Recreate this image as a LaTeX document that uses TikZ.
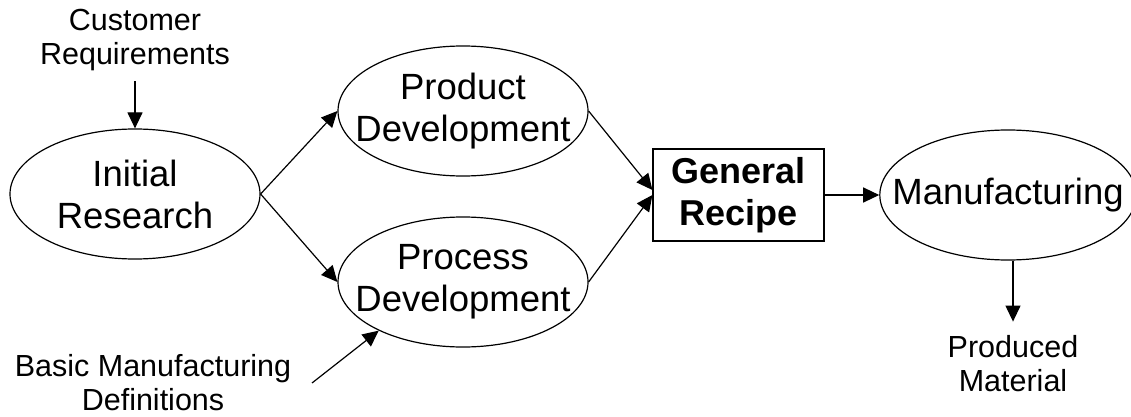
\documentclass[tikz,border=0pt]{standalone}
\usepackage{fontspec}
\setmainfont{Liberation Sans}
\usetikzlibrary{shapes.geometric,arrows.meta}
\begin{document}
\begin{tikzpicture}[x=1pt,y=-1pt,
    oval/.style={ellipse, draw, line width=1.2pt, minimum width=250pt, minimum height=130pt, inner xsep=-25pt, inner ysep=-10pt, align=center, font=\fontsize{36.5}{42}\selectfont},
    recipebox/.style={rectangle, draw, line width=1.2pt, minimum width=171pt, minimum height=92pt, inner sep=0pt, align=center, font=\fontsize{36}{42}\selectfont\bfseries},
    note/.style={align=center, inner sep=4pt, font=\fontsize{30.5}{34}\selectfont},
    flow/.style={-{Triangle[length=16pt,width=15pt]}, line width=1.2pt}]
                        \useasboundingbox (0,0) rectangle (1131,417);
                        \node[oval] (init) at (135,194) {Initial\\Research};
                        \node[oval] (prod) at (463,111) {Product\\Development};
                        \node[oval] (proc) at (463,282) {Process\\Development};
                        \node[recipebox] (recipe) at (738.5,195) {General\\Recipe};
                        \node[oval, minimum width=240pt] (manu) at (1008,195) {Manufacturing};
                        \node[note] (cust) at (135,40) {Customer\\Requirements};
                        \node[note] (basic) at (153,383) {Basic Manufacturing\\Definitions};
                        \node[note] (mat) at (1013,364) {Produced\\Material};
                        \coordinate (basicend) at (312,383);
                        \draw[flow, shorten <=6pt] (cust) -- (init);
                        \draw[flow] (init.east) -- (prod.west);
                        \draw[flow] (init.east) -- (proc.west);
                        \draw[flow] (prod.east) -- ([yshift=5pt]recipe.west);
                        \draw[flow] (proc.east) -- (recipe.west);
                        \draw[flow] (basicend) -- (proc.210);
                        \draw[flow] (recipe.east) -- (manu.west);
                        \draw[flow, shorten >=10pt] (manu.south -| mat.north) -- (mat.north);
                    \end{tikzpicture}
\end{document}
